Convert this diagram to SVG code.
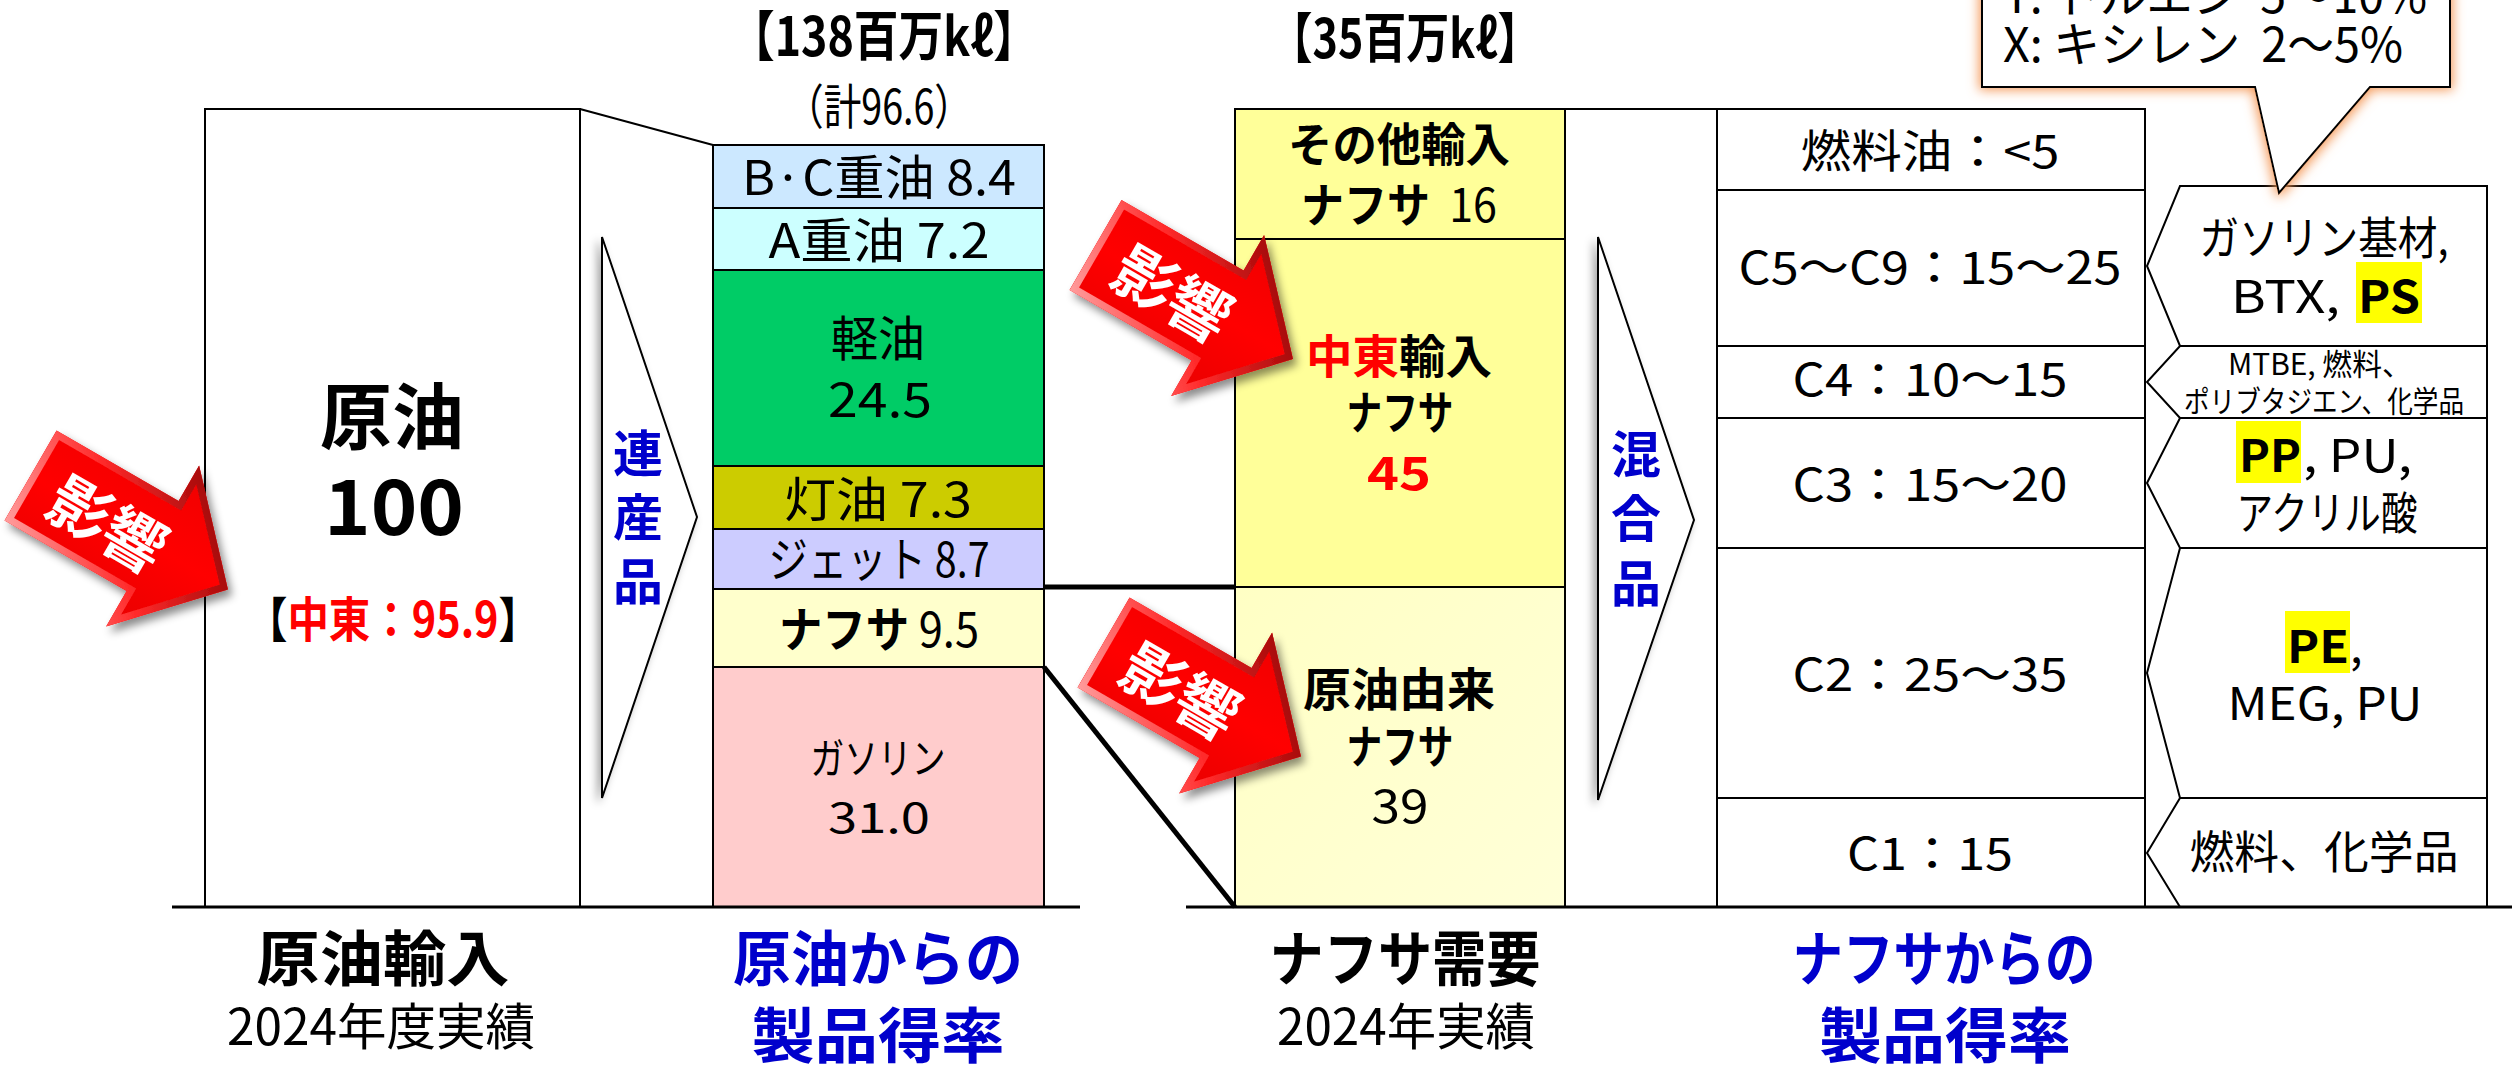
<svg xmlns="http://www.w3.org/2000/svg" width="2512" height="1065" viewBox="0 0 2512 1065">
<style>
text{font-family:"Noto Sans CJK JP","Noto Sans",sans-serif;fill:#000}
.c{text-anchor:middle}
.b{font-weight:700}
.blue{fill:#0000CC}
.red{fill:#FF0000}
.cell{stroke:#000;stroke-width:2}
.box{fill:#fff;stroke:#000;stroke-width:2}
.tri{fill:#fff;stroke:#000;stroke-width:2}
.ek{fill:#fff;font-weight:700;font-size:62px;text-anchor:middle;dominant-baseline:central}
</style>
<defs>
<linearGradient id="redFill" gradientUnits="userSpaceOnUse" x1="0" y1="-93" x2="0" y2="93">
<stop offset="0" stop-color="#F00000"/><stop offset="0.5" stop-color="#FF0505"/><stop offset="1" stop-color="#E80000"/>
</linearGradient>
<linearGradient id="bevel" gradientUnits="userSpaceOnUse" x1="20" y1="70" x2="190" y2="-90">
<stop offset="0" stop-color="#FF9A9A"/><stop offset="0.45" stop-color="#FF2A2A"/><stop offset="1" stop-color="#8A0000"/>
</linearGradient>
<linearGradient id="naph3" x1="0" y1="0" x2="1" y2="1">
<stop offset="0" stop-color="#FFFFC4"/><stop offset="1" stop-color="#FFFFD8"/>
</linearGradient>
<clipPath id="arrowClip"><path d="M0,-52 L141,-52 L141,-93 L228,0 L141,93 L141,52 L0,52 Z"/></clipPath>
<filter id="arrowShadow" x="-30%" y="-30%" width="160%" height="160%">
<feDropShadow dx="4" dy="6" stdDeviation="4" flood-color="#000" flood-opacity="0.45"/>
</filter>
<filter id="triShadow" x="-40%" y="-10%" width="180%" height="120%">
<feDropShadow dx="-4" dy="4" stdDeviation="4" flood-color="#000" flood-opacity="0.35"/>
</filter>
<filter id="glow" x="-20%" y="-40%" width="140%" height="180%">
<feMorphology in="SourceAlpha" operator="dilate" radius="2" result="d"/>
<feGaussianBlur in="d" stdDeviation="6" result="bl"/>
<feFlood flood-color="#F59A5A" result="fc"/>
<feComposite in="fc" in2="bl" operator="in" result="g"/>
<feMerge><feMergeNode in="g"/><feMergeNode in="SourceGraphic"/></feMerge>
</filter>
<g id="eikyoShape">
<path d="M0,-52 L141,-52 L141,-93 L228,0 L141,93 L141,52 L0,52 Z" fill="url(#redFill)"/>
<path d="M0,-52 L141,-52 L141,-93 L228,0 L141,93 L141,52 L0,52 Z" fill="none" stroke="url(#bevel)" stroke-width="14" clip-path="url(#arrowClip)"/>
<text class="ek" x="60" y="0">影</text>
<text class="ek" x="122" y="0">響</text>
</g>
</defs>
<rect x="0" y="0" width="2512" height="1065" fill="#fff"/>

<!-- Crude oil import node -->
<g id="crude">
<rect class="box" x="205" y="109" width="375" height="798" stroke-width="1.5"/>
<text class="c b" x="392" y="443" font-size="72" textLength="144" lengthAdjust="spacingAndGlyphs">原油</text>
<text class="c b" x="394" y="535" font-size="76" textLength="140" lengthAdjust="spacingAndGlyphs">100</text>
<text class="c b" x="393" y="637" font-size="48" textLength="294" lengthAdjust="spacingAndGlyphs">【<tspan class="red">中東：95.9</tspan>】</text>
</g>

<!-- Joint products arrow -->
<g id="renseihin">
<path class="tri" d="M602,237 L697,517 L602,798 Z" filter="url(#triShadow)"/>
<text class="c b blue" x="638" y="472" font-size="50">連</text>
<text class="c b blue" x="638" y="536" font-size="50">産</text>
<text class="c b blue" x="638" y="600" font-size="50">品</text>
</g>

<!-- Product yield from crude -->
<g id="products">
<text class="c b" x="884" y="56" font-size="54" textLength="308" lengthAdjust="spacingAndGlyphs">【138百万kℓ】</text>
<text class="c" x="879" y="124" font-size="48" textLength="186" lengthAdjust="spacingAndGlyphs">（計96.6）</text>
<rect class="cell" x="713" y="145" width="331" height="63" fill="#CCE8FF"/>
<rect class="cell" x="713" y="208" width="331" height="62" fill="#CCFFFF"/>
<rect class="cell" x="713" y="270" width="331" height="196" fill="#00CC66"/>
<rect class="cell" x="713" y="466" width="331" height="63" fill="#CCCC00"/>
<rect class="cell" x="713" y="529" width="331" height="60" fill="#CCCCFF"/>
<rect class="cell" x="713" y="589" width="331" height="78" fill="#FFFFCC"/>
<rect class="cell" x="713" y="667" width="331" height="240" fill="#FFCCCC"/>
<text class="c" x="879" y="195" font-size="48" textLength="274" lengthAdjust="spacingAndGlyphs">B·C重油 8.4</text>
<text class="c" x="879" y="258" font-size="48" textLength="221" lengthAdjust="spacingAndGlyphs">A重油 7.2</text>
<text class="c" x="878" y="356" font-size="48" textLength="94" lengthAdjust="spacingAndGlyphs">軽油</text>
<text class="c" x="880" y="417" font-size="48" textLength="104" lengthAdjust="spacingAndGlyphs">24.5</text>
<text class="c" x="878" y="517" font-size="48" textLength="188" lengthAdjust="spacingAndGlyphs">灯油 7.3</text>
<text class="c" x="879" y="577" font-size="48" textLength="221" lengthAdjust="spacingAndGlyphs">ジェット 8.7</text>
<text class="c" x="879" y="647" font-size="48" textLength="200" lengthAdjust="spacingAndGlyphs"><tspan class="b">ナフサ</tspan> 9.5</text>
<text class="c" x="878" y="774" font-size="42" textLength="135" lengthAdjust="spacingAndGlyphs">ガソリン</text>
<text class="c" x="879" y="833" font-size="42" textLength="102" lengthAdjust="spacingAndGlyphs">31.0</text>
</g>

<!-- Naphtha demand -->
<g id="naphtha">
<text class="c b" x="1405" y="58" font-size="54" textLength="271" lengthAdjust="spacingAndGlyphs">【35百万kℓ】</text>
<rect class="cell" x="1235" y="109" width="330" height="130" fill="#FFFF99"/>
<rect class="cell" x="1235" y="239" width="330" height="348" fill="#FFFF99"/>
<rect class="cell" x="1235" y="587" width="330" height="320" fill="url(#naph3)"/>
<text class="c b" x="1399" y="161" font-size="46" textLength="222" lengthAdjust="spacingAndGlyphs">その他輸入</text>
<text class="c" x="1399" y="222" font-size="47" textLength="196" lengthAdjust="spacingAndGlyphs" xml:space="preserve"><tspan class="b">ナフサ</tspan>  16</text>
<text class="c b" x="1399" y="373" font-size="46" textLength="186" lengthAdjust="spacingAndGlyphs"><tspan class="red">中東</tspan>輸入</text>
<text class="c b" x="1400" y="429" font-size="46" textLength="107" lengthAdjust="spacingAndGlyphs">ナフサ</text>
<text class="c b red" x="1399" y="490" font-size="46" textLength="64" lengthAdjust="spacingAndGlyphs">45</text>
<text class="c b" x="1399" y="706" font-size="46" textLength="192" lengthAdjust="spacingAndGlyphs">原油由来</text>
<text class="c b" x="1400" y="763" font-size="46" textLength="107" lengthAdjust="spacingAndGlyphs">ナフサ</text>
<text class="c" x="1400" y="823" font-size="46" textLength="57" lengthAdjust="spacingAndGlyphs">39</text>
</g>

<!-- Mixed products arrow -->
<g id="kongouhin">
<rect class="box" x="1565" y="109" width="152" height="798"/>
<path class="tri" d="M1598,237 L1694,520 L1598,800 Z" filter="url(#triShadow)"/>
<text class="c b blue" x="1636" y="473" font-size="50">混</text>
<text class="c b blue" x="1636" y="537" font-size="50">合</text>
<text class="c b blue" x="1636" y="602" font-size="50">品</text>
</g>

<!-- Yield table from naphtha -->
<g id="naphtha-yield">
<rect class="box" x="1717" y="109" width="428" height="81"/>
<rect class="box" x="1717" y="190" width="428" height="156"/>
<rect class="box" x="1717" y="346" width="428" height="72"/>
<rect class="box" x="1717" y="418" width="428" height="130"/>
<rect class="box" x="1717" y="548" width="428" height="250"/>
<rect class="box" x="1717" y="798" width="428" height="109"/>
<text class="c" x="1930" y="168" font-size="45" textLength="259" lengthAdjust="spacingAndGlyphs">燃料油：&lt;5</text>
<text class="c" x="1930" y="284" font-size="45" textLength="383" lengthAdjust="spacingAndGlyphs">C5〜C9：15〜25</text>
<text class="c" x="1930" y="396" font-size="45" textLength="275" lengthAdjust="spacingAndGlyphs">C4：10〜15</text>
<text class="c" x="1930" y="501" font-size="45" textLength="275" lengthAdjust="spacingAndGlyphs">C3：15〜20</text>
<text class="c" x="1930" y="691" font-size="45" textLength="275" lengthAdjust="spacingAndGlyphs">C2：25〜35</text>
<text class="c" x="1930" y="870" font-size="45" textLength="166" lengthAdjust="spacingAndGlyphs">C1：15</text>
</g>

<!-- Derivative products -->
<g id="derivatives">
<path class="box" d="M2180,186 H2487 V346 H2180 L2147,266 Z"/>
<path class="box" d="M2180,346 H2487 V418 H2180 L2147,382 Z"/>
<path class="box" d="M2180,418 H2487 V548 H2180 L2147,483 Z"/>
<path class="box" d="M2180,548 H2487 V798 H2180 L2147,673 Z"/>
<path class="box" d="M2180,798 H2487 V907 H2180 L2147,853 Z"/>
<rect x="2356" y="262" width="66" height="61" fill="#FFFF00"/>
<rect x="2236" y="421" width="65" height="62" fill="#FFFF00"/>
<rect x="2285" y="611" width="65" height="62" fill="#FFFF00"/>
<text class="c" x="2324" y="255" font-size="45" textLength="249" lengthAdjust="spacingAndGlyphs">ガソリン基材,</text>
<text x="2231" y="313" font-size="45" textLength="109" lengthAdjust="spacingAndGlyphs">BTX,</text>
<text class="b" x="2358" y="313" font-size="45" textLength="62" lengthAdjust="spacingAndGlyphs">PS</text>
<text class="c" x="2320" y="375" font-size="30" textLength="184" lengthAdjust="spacingAndGlyphs">MTBE, 燃料、</text>
<text class="c" x="2324" y="412" font-size="30" textLength="280" lengthAdjust="spacingAndGlyphs">ポリブタジエン、化学品</text>
<text class="b" x="2239" y="472" font-size="45" textLength="62" lengthAdjust="spacingAndGlyphs">PP</text>
<text x="2303" y="472" font-size="45" textLength="109" lengthAdjust="spacingAndGlyphs">, PU,</text>
<text class="c" x="2327" y="530" font-size="45" textLength="181" lengthAdjust="spacingAndGlyphs">アクリル酸</text>
<text class="b" x="2287" y="663" font-size="45" textLength="62" lengthAdjust="spacingAndGlyphs">PE</text>
<text x="2350" y="663" font-size="45">,</text>
<text class="c" x="2325" y="720" font-size="45" textLength="195" lengthAdjust="spacingAndGlyphs">MEG, PU</text>
<text class="c" x="2324" y="869" font-size="45" textLength="269" lengthAdjust="spacingAndGlyphs">燃料、化学品</text>
</g>

<!-- Connectors -->
<g id="connectors" stroke="#000" fill="none">
<line x1="580" y1="109" x2="713" y2="145" stroke-width="2"/>
<line x1="1044" y1="587" x2="1235" y2="587" stroke-width="5"/>
<line x1="1044" y1="667" x2="1235" y2="907" stroke-width="5"/>
<line x1="172" y1="907" x2="1080" y2="907" stroke-width="3"/>
<line x1="1186" y1="907" x2="2512" y2="907" stroke-width="3"/>
</g>

<!-- Bottom captions -->
<g id="captions">
<text class="c b" x="383" y="981" font-size="60" textLength="253" lengthAdjust="spacingAndGlyphs">原油輸入</text>
<text class="c" x="381" y="1045" font-size="50" textLength="308" lengthAdjust="spacingAndGlyphs">2024年度実績</text>
<text class="c b blue" x="878" y="981" font-size="60" textLength="290" lengthAdjust="spacingAndGlyphs">原油からの</text>
<text class="c b blue" x="878" y="1058" font-size="60" textLength="253" lengthAdjust="spacingAndGlyphs">製品得率</text>
<text class="c b" x="1405" y="981" font-size="60" textLength="271" lengthAdjust="spacingAndGlyphs">ナフサ需要</text>
<text class="c" x="1406" y="1045" font-size="50" textLength="258" lengthAdjust="spacingAndGlyphs">2024年実績</text>
<text class="c b blue" x="1944" y="981" font-size="60" textLength="303" lengthAdjust="spacingAndGlyphs">ナフサからの</text>
<text class="c b blue" x="1945" y="1058" font-size="60" textLength="252" lengthAdjust="spacingAndGlyphs">製品得率</text>
</g>

<!-- Impact arrows -->
<g id="impact1" filter="url(#arrowShadow)"><use href="#eikyoShape" transform="translate(30.5,475.5) rotate(30)"/></g>
<g id="impact2" filter="url(#arrowShadow)"><use href="#eikyoShape" transform="translate(1095.5,245) rotate(30)"/></g>
<g id="impact3" filter="url(#arrowShadow)"><use href="#eikyoShape" transform="translate(1103.5,642.5) rotate(30)"/></g>

<!-- Callout -->
<g id="callout">
<path d="M1982,-30 H2450 V87 H2370 L2279,193 L2255,87 H1982 Z" fill="#fff" stroke="#000" stroke-width="2" filter="url(#glow)"/>
<text x="2003" y="13" font-size="48" textLength="424" lengthAdjust="spacingAndGlyphs" xml:space="preserve">T: トルエン  5〜10%</text>
<text x="2003" y="62" font-size="48" textLength="400" lengthAdjust="spacingAndGlyphs" xml:space="preserve">X: キシレン  2〜5%</text>
</g>
</svg>
